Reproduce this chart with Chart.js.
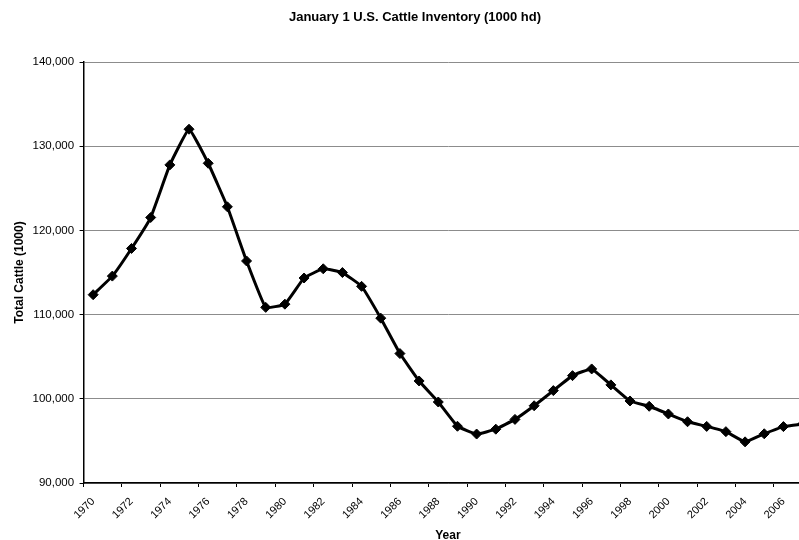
<!DOCTYPE html>
<html lang="en">
<head>
    <meta charset="UTF-8">
    <script src="https://cdn.jsdelivr.net/npm/chart.js"></script>
    <title>January 1 U.S. Cattle Inventory</title>
    <style>
        html, body {
            margin: 0;
            padding: 0;
            background: #fff;
            overflow: hidden;
        }

        #chart_container {
            width: 820px;
            height: 540px;
        }
    </style>
</head>
<body>
    <div id="chart_container">
        <canvas id="cattle_chart"></canvas>
    </div>

    <script>
        // Years on the category axis
        const years = [
            1970, 1971, 1972, 1973, 1974, 1975, 1976, 1977, 1978, 1979,
            1980, 1981, 1982, 1983, 1984, 1985, 1986, 1987, 1988, 1989,
            1990, 1991, 1992, 1993, 1994, 1995, 1996, 1997, 1998, 1999,
            2000, 2001, 2002, 2003, 2004, 2005, 2006, 2007
        ];

        // January 1 inventory, 1000 head
        const cattle = [
            112369, 114578, 117862, 121539, 127788, 132028, 127980, 122810, 116375, 110864,
            111242, 114351, 115444, 115001, 113360, 109582, 105378, 102118, 99622, 96740,
            95816, 96393, 97556, 99176, 100974, 102755, 103548, 101656, 99744, 99115,
            98199, 97277, 96723, 96100, 94888, 95848, 96702, 97003
        ];

        // Y axis range
        const y_min = 90000, y_max = 140000, y_step = 10000;

        const font_family = "'Liberation Sans', Arial, sans-serif";

        const ctx = document.getElementById('cattle_chart').getContext('2d');
        const cattleChart = new Chart(ctx, {
            type: 'line',
            data: {
                labels: years.map(String),
                datasets: [{
                    label: 'Total Cattle',
                    data: cattle,
                    borderColor: '#000',
                    backgroundColor: '#000',
                    borderWidth: 3,
                    tension: 0.1,
                    pointStyle: 'rectRot',
                    pointRadius: 5,
                    pointHoverRadius: 5,
                    pointBackgroundColor: '#000',
                    pointBorderColor: '#000',
                    pointBorderWidth: 1
                }]
            },
            options: {
                responsive: true,
                maintainAspectRatio: false,
                animation: false,
                layout: {
                    padding: { top: 8, right: 2, bottom: 0, left: 12 }
                },
                plugins: {
                    legend: { display: false },
                    tooltip: { enabled: false },
                    title: {
                        display: true,
                        text: 'January 1 U.S. Cattle Inventory (1000 hd)',
                        color: '#000',
                        font: { family: font_family, size: 13, weight: 'bold' },
                        padding: { top: 2, bottom: 36.5 }
                    }
                },
                scales: {
                    x: {
                        offset: true,
                        // the label block in the original is tighter than Chart.js reserves
                        afterFit: (scale) => { scale.height = 57; },
                        title: {
                            display: true,
                            text: 'Year',
                            color: '#000',
                            font: { family: font_family, size: 12, weight: 'bold' },
                            padding: { top: 0, bottom: -3 }
                        },
                        ticks: {
                            autoSkip: false,
                            maxRotation: 45,
                            minRotation: 45,
                            color: '#000',
                            padding: 8,
                            font: { family: font_family, size: 11 },
                            callback: function (value, index) {
                                return index % 2 === 0 ? this.getLabelForValue(value) : '';
                            }
                        },
                        grid: {
                            offset: true,
                            drawOnChartArea: false,
                            tickLength: 4,
                            tickColor: (c) => (c.index % 2 === 0 ? '#000' : 'rgba(0,0,0,0)')
                        },
                        border: { color: '#000', width: 1.5 }
                    },
                    y: {
                        min: y_min,
                        max: y_max,
                        title: {
                            display: true,
                            text: 'Total Cattle (1000)',
                            color: '#000',
                            font: { family: font_family, size: 12, weight: 'bold' },
                            padding: { top: 0, bottom: 0.6 }
                        },
                        ticks: {
                            stepSize: y_step,
                            color: '#000',
                            padding: 5.5,
                            font: { family: font_family, size: 11.5 },
                            callback: (v) => v.toLocaleString('en-US')
                        },
                        grid: {
                            color: '#8c8c8c',
                            lineWidth: 1,
                            tickLength: 4,
                            tickColor: '#000'
                        },
                        border: { color: '#000', width: 1.5 }
                    }
                }
            }
        });
    </script>
</body>
</html>
